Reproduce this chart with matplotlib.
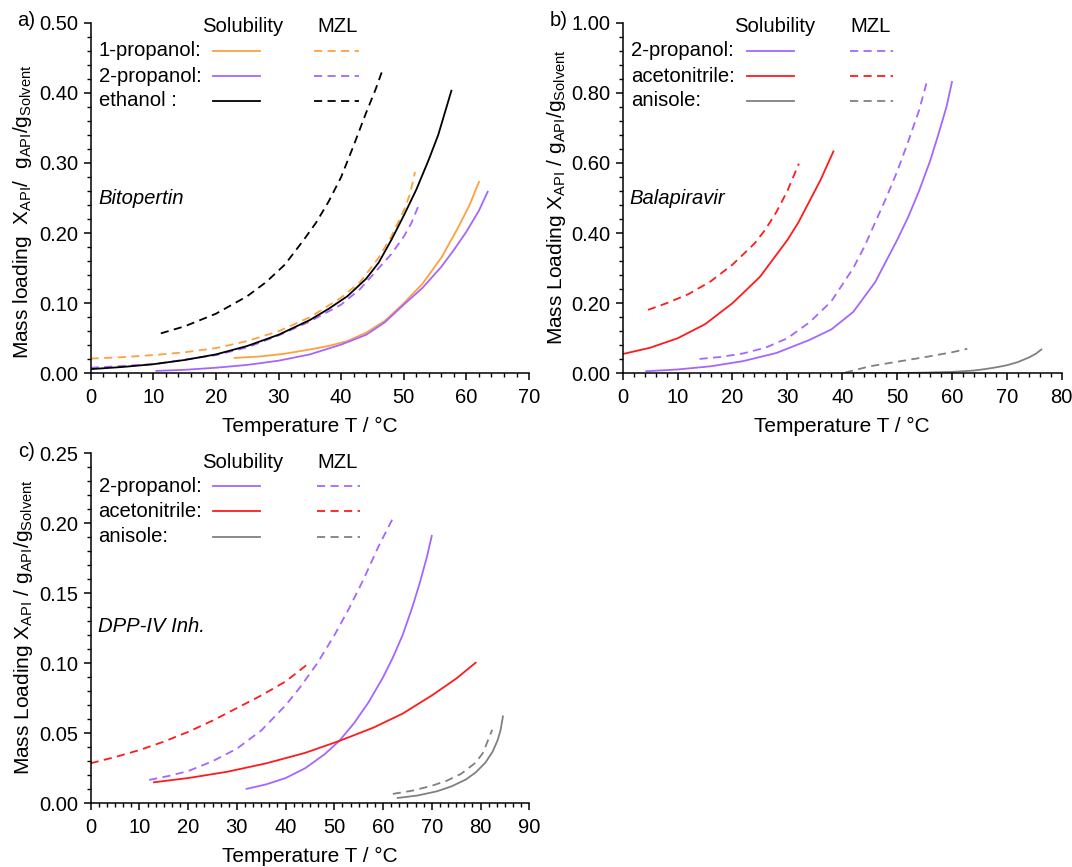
import numpy as np
import matplotlib
matplotlib.use("Agg")
import matplotlib.pyplot as plt
from matplotlib.ticker import MultipleLocator, AutoMinorLocator, FormatStrFormatter

plt.rcParams['font.family'] = ['Liberation Sans', 'DejaVu Sans']
plt.rcParams['mathtext.fontset'] = 'custom'
plt.rcParams['mathtext.rm'] = 'Liberation Sans'
plt.rcParams['mathtext.it'] = 'Liberation Sans:italic'

ORANGE = '#FFA040'
PURPLE = '#A566FF'
RED = '#FF1A1A'
GRAY = '#808080'
BLACK = '#000000'

# ---- panel a: Bitopertin ----
a_1prop_sol_T = [23, 27, 31, 35, 38, 41, 44, 47, 50, 53, 56, 58.5, 60.5, 62]
a_1prop_sol_y = [0.022, 0.024, 0.028, 0.034, 0.039, 0.046, 0.058, 0.075, 0.1, 0.128, 0.165, 0.205, 0.24, 0.273]
a_2prop_sol_T = [10.5, 15, 20, 25, 30, 35, 40, 44, 47, 50, 53, 56, 58, 60, 62, 63.4]
a_2prop_sol_y = [0.0035, 0.005, 0.008, 0.012, 0.018, 0.027, 0.041, 0.055, 0.073, 0.098, 0.122, 0.152, 0.176, 0.202, 0.232, 0.259]
a_eth_sol_T = [0, 5, 10, 15, 20, 25, 30, 35, 38, 41, 44, 46, 48, 50, 52, 54, 55.5, 57, 57.6]
a_eth_sol_y = [0.006, 0.009, 0.013, 0.019, 0.027, 0.039, 0.055, 0.076, 0.092, 0.11, 0.135, 0.158, 0.19, 0.225, 0.262, 0.305, 0.34, 0.385, 0.403]
a_1prop_mzl_T = [0, 5, 10, 15, 20, 25, 30, 35, 40, 43, 46, 48, 50, 51, 51.8]
a_1prop_mzl_y = [0.021, 0.023, 0.026, 0.03, 0.036, 0.046, 0.06, 0.08, 0.108, 0.13, 0.165, 0.195, 0.232, 0.256, 0.287]
a_2prop_mzl_T = [0, 10, 20, 25, 30, 35, 40, 43, 46, 48, 50, 51.2, 52.3]
a_2prop_mzl_y = [0.008, 0.013, 0.026, 0.037, 0.054, 0.074, 0.098, 0.12, 0.15, 0.17, 0.195, 0.214, 0.238]
a_eth_mzl_T = [11.2, 15, 20, 25, 28, 31, 34, 36, 38, 40, 42, 44, 45.5, 46.5]
a_eth_mzl_y = [0.057, 0.067, 0.085, 0.11, 0.13, 0.155, 0.19, 0.215, 0.245, 0.28, 0.325, 0.372, 0.405, 0.43]

# ---- panel b: Balapiravir ----
b_2prop_sol_T = [4.3, 10, 16, 22, 28, 34, 38, 42, 46, 50, 52, 54, 56, 57.5, 59, 60]
b_2prop_sol_y = [0.006, 0.011, 0.02, 0.035, 0.058, 0.095, 0.125, 0.175, 0.26, 0.38, 0.445, 0.52, 0.605, 0.68, 0.76, 0.831]
b_acn_sol_T = [0, 5, 10, 15, 20, 25, 30, 32, 34, 36, 38.4]
b_acn_sol_y = [0.055, 0.073, 0.1, 0.14, 0.2, 0.275, 0.38, 0.43, 0.49, 0.55, 0.633]
b_anis_sol_T = [40, 50, 55, 60, 62, 64, 66, 68, 70, 72, 74, 75.3, 76.3]
b_anis_sol_y = [0.0, 0.001, 0.002, 0.004, 0.006, 0.008, 0.012, 0.017, 0.023, 0.032, 0.045, 0.056, 0.068]
b_2prop_mzl_T = [14, 18, 22, 26, 30, 34, 38, 42, 44, 46, 48, 50, 52, 54, 55.5]
b_2prop_mzl_y = [0.041, 0.047, 0.057, 0.073, 0.1, 0.145, 0.205, 0.3, 0.36, 0.43, 0.5, 0.575, 0.66, 0.75, 0.836]
b_acn_mzl_T = [4.6, 8, 12, 16, 20, 24, 26, 28, 30, 32.1]
b_acn_mzl_y = [0.181, 0.2, 0.226, 0.262, 0.31, 0.37, 0.41, 0.46, 0.52, 0.598]
b_anis_mzl_T = [40.5, 45, 50, 55, 60, 62.8]
b_anis_mzl_y = [0.002, 0.02, 0.033, 0.046, 0.06, 0.07]

# ---- panel c: DPP-IV Inh. ----
c_2prop_sol_T = [32, 36, 40, 44, 48, 51, 54, 57, 60, 62, 64, 66, 67.5, 69, 70]
c_2prop_sol_y = [0.0103, 0.0135, 0.018, 0.025, 0.035, 0.0445, 0.057, 0.072, 0.09, 0.104, 0.12, 0.14, 0.157, 0.176, 0.191]
c_acn_sol_T = [13, 20, 28, 36, 44, 51, 58, 64, 70, 75, 79]
c_acn_sol_y = [0.015, 0.018, 0.0225, 0.0285, 0.036, 0.0445, 0.054, 0.064, 0.077, 0.089, 0.1004]
c_anis_sol_T = [63, 67, 71, 74, 77, 79, 81, 82.5, 83.5, 84.1, 84.6]
c_anis_sol_y = [0.0038, 0.0055, 0.0085, 0.012, 0.017, 0.022, 0.029, 0.037, 0.045, 0.052, 0.062]
c_2prop_mzl_T = [12, 16, 20, 25, 30, 35, 40, 43, 46.5, 50, 53, 56, 59, 62]
c_2prop_mzl_y = [0.0167, 0.0195, 0.023, 0.03, 0.039, 0.052, 0.07, 0.083, 0.1, 0.12, 0.139, 0.16, 0.183, 0.2035]
c_acn_mzl_T = [0, 5, 10, 15, 20, 25, 30, 35, 40, 44.2]
c_acn_mzl_y = [0.0286, 0.033, 0.038, 0.044, 0.051, 0.059, 0.068, 0.077, 0.087, 0.0985]
c_anis_mzl_T = [62, 66, 70, 73, 76, 79, 80.5, 82.4]
c_anis_mzl_y = [0.0067, 0.009, 0.0125, 0.016, 0.021, 0.029, 0.036, 0.0525]

FS = 14.6      # legend / annotation text
TFS = 14.5     # tick labels
LFS = 15       # axis labels
LW = 1.3
DASH = (4.5, 3.0)

fig = plt.figure(figsize=(10.72, 8.67), dpi=100)
ax_a = fig.add_axes([0.0846, 0.5694, 0.4089, 0.4044])
ax_b = fig.add_axes([0.5809, 0.5694, 0.4095, 0.4044])
ax_c = fig.add_axes([0.0846, 0.0735, 0.4091, 0.4037])


def style(ax, xmax, ymax, ymaj, yfmt, xminor):
    ax.set_xlim(0, xmax)
    ax.set_ylim(0, ymax)
    ax.spines['top'].set_visible(False)
    ax.spines['right'].set_visible(False)
    for s in ['left', 'bottom']:
        ax.spines[s].set_linewidth(1.1)
    ax.xaxis.set_major_locator(MultipleLocator(10))
    ax.xaxis.set_minor_locator(AutoMinorLocator(xminor))
    ax.yaxis.set_major_locator(MultipleLocator(ymaj))
    ax.yaxis.set_minor_locator(AutoMinorLocator(5))
    ax.yaxis.set_major_formatter(FormatStrFormatter(yfmt))
    ax.tick_params(which='major', direction='out', length=5, width=1.1,
                   labelsize=TFS)
    ax.tick_params(axis='x', which='major', pad=5.5)
    ax.tick_params(axis='y', which='major', pad=4)
    ax.tick_params(which='minor', direction='out', length=3, width=1.0)
    ax.set_xlabel('Temperature T / °C', fontsize=LFS)
    ax.xaxis.set_label_coords(0.5, -0.125)


def legend(ax, names, colors, ytop, rows, sol_x, mzl_x):
    ax.text(0.253, ytop, 'Solubility', transform=ax.transAxes, fontsize=FS,
            va='center', ha='left')
    ax.text(0.518, ytop, 'MZL', transform=ax.transAxes, fontsize=FS,
            va='center', ha='left')
    for name, col, yy in zip(names, colors, rows):
        ax.text(0.018, yy, name, transform=ax.transAxes, fontsize=FS,
                va='center', ha='left')
        ax.plot(sol_x, [yy, yy], color=col, lw=LW, transform=ax.transAxes)
        ax.plot(mzl_x, [yy, yy], color=col, lw=LW, dashes=DASH,
                transform=ax.transAxes)


# panel a
style(ax_a, 70, 0.5, 0.1, '%.2f', 5)
ax_a.plot(a_1prop_sol_T, a_1prop_sol_y, color=ORANGE, lw=LW)
ax_a.plot(a_2prop_sol_T, a_2prop_sol_y, color=PURPLE, lw=LW)
ax_a.plot(a_1prop_mzl_T, a_1prop_mzl_y, color=ORANGE, lw=LW, dashes=DASH)
ax_a.plot(a_2prop_mzl_T, a_2prop_mzl_y, color=PURPLE, lw=LW, dashes=DASH)
ax_a.plot(a_eth_sol_T, a_eth_sol_y, color=BLACK, lw=LW)
ax_a.plot(a_eth_mzl_T, a_eth_mzl_y, color=BLACK, lw=LW, dashes=DASH)
ax_a.set_ylabel(r'Mass loading  X$_\mathregular{API}$/  g$_\mathregular{API}$/g$_\mathregular{Solvent}$',
                fontsize=LFS)
ax_a.yaxis.set_label_coords(-0.13, 0.46)
legend(ax_a, ['1-propanol:', '2-propanol:', 'ethanol :'], [ORANGE, PURPLE, BLACK],
       0.99, [0.920, 0.848, 0.777], [0.279, 0.387], [0.510, 0.611])
ax_a.text(0.018, 0.498, 'Bitopertin', transform=ax_a.transAxes, fontsize=FS,
          style='italic', va='center')

# panel b
style(ax_b, 80, 1.0, 0.2, '%.2f', 5)
ax_b.plot(b_2prop_sol_T, b_2prop_sol_y, color=PURPLE, lw=LW)
ax_b.plot(b_acn_sol_T, b_acn_sol_y, color=RED, lw=LW)
ax_b.plot(b_anis_sol_T, b_anis_sol_y, color=GRAY, lw=LW)
ax_b.plot(b_2prop_mzl_T, b_2prop_mzl_y, color=PURPLE, lw=LW, dashes=DASH)
ax_b.plot(b_acn_mzl_T, b_acn_mzl_y, color=RED, lw=LW, dashes=DASH)
ax_b.plot(b_anis_mzl_T, b_anis_mzl_y, color=GRAY, lw=LW, dashes=DASH)
ax_b.set_ylabel(r'Mass Loading X$_\mathregular{API}$ / g$_\mathregular{API}$/g$_\mathregular{Solvent}$',
                fontsize=LFS)
ax_b.yaxis.set_label_coords(-0.125, 0.503)
legend(ax_b, ['2-propanol:', 'acetonitrile:', 'anisole:'], [PURPLE, RED, GRAY],
       0.99, [0.920, 0.848, 0.777], [0.283, 0.390], [0.517, 0.616])
ax_b.text(0.016, 0.50, 'Balapiravir', transform=ax_b.transAxes, fontsize=FS,
          style='italic', va='center')

# panel c
style(ax_c, 90, 0.25, 0.05, '%.2f', 6)
ax_c.plot(c_2prop_sol_T, c_2prop_sol_y, color=PURPLE, lw=LW)
ax_c.plot(c_acn_sol_T, c_acn_sol_y, color=RED, lw=LW)
ax_c.plot(c_anis_sol_T, c_anis_sol_y, color=GRAY, lw=LW)
ax_c.plot(c_2prop_mzl_T, c_2prop_mzl_y, color=PURPLE, lw=LW, dashes=DASH)
ax_c.plot(c_acn_mzl_T, c_acn_mzl_y, color=RED, lw=LW, dashes=DASH)
ax_c.plot(c_anis_mzl_T, c_anis_mzl_y, color=GRAY, lw=LW, dashes=DASH)
ax_c.set_ylabel(r'Mass Loading X$_\mathregular{API}$ / g$_\mathregular{API}$/g$_\mathregular{Solvent}$',
                fontsize=LFS)
ax_c.yaxis.set_label_coords(-0.128, 0.504)
legend(ax_c, ['2-propanol:', 'acetonitrile:', 'anisole:'], [PURPLE, RED, GRAY],
       0.974, [0.906, 0.834, 0.761], [0.279, 0.387], [0.515, 0.615])
ax_c.text(0.017, 0.504, 'DPP-IV Inh.', transform=ax_c.transAxes, fontsize=FS,
          style='italic', va='center')

# panel letters
fig.text(35 / 1072, 1 - 20 / 867, 'a)', fontsize=FS, ha='right', va='center')
fig.text(568 / 1072, 1 - 20 / 867, 'b)', fontsize=FS, ha='right', va='center')
fig.text(35 / 1072, 1 - 452 / 867, 'c)', fontsize=FS, ha='right', va='center')

fig.savefig('out.png', dpi=100)
